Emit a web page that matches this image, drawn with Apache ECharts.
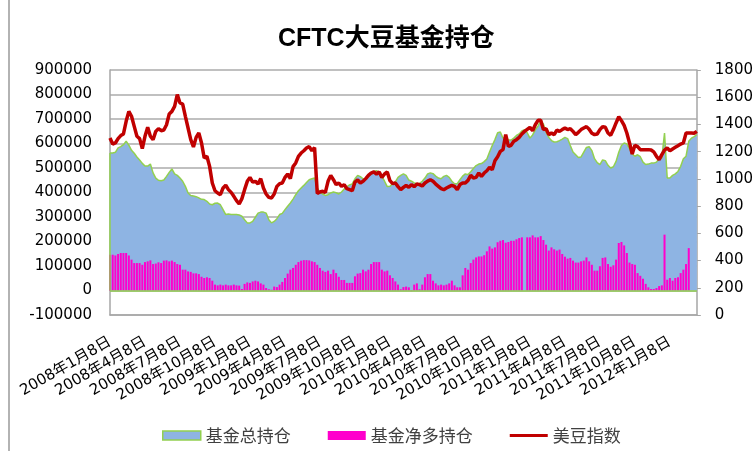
<!DOCTYPE html>
<html>
<head>
<meta charset="utf-8">
<title>CFTC大豆基金持仓</title>
<script src="https://cdn.jsdelivr.net/npm/echarts@6/dist/echarts.min.js"></script>
<style>
  html, body { margin: 0; padding: 0; background: #fff; }
  #chart { width: 756px; height: 451px; }
</style>
</head>
<body>
<div id="chart"></div>
<script>
// 轴标签（每季度一个）
const tickLabels = [
  '2008年1月8日', '2008年4月8日', '2008年7月8日', '2008年10月8日',
  '2009年1月8日', '2009年4月8日', '2009年7月8日', '2009年10月8日',
  '2010年1月8日', '2010年4月8日', '2010年7月8日', '2010年10月8日',
  '2011年1月8日', '2011年4月8日', '2011年7月8日', '2011年10月8日',
  '2012年1月8日'
]

// 基金总持仓（周数据）
const totalPos = [
  561000, 561000, 564000, 582000, 587000, 595000, 609000, 593000, 572000, 560000,
  545000, 533000, 519000, 508000, 508000, 516000, 480000, 459000, 450000, 448000,
  451000, 466000, 482000, 496000, 476000, 470000, 459000, 446000, 425000, 398000,
  388000, 386000, 383000, 378000, 372000, 371000, 364000, 353000, 350000, 356000,
  357000, 350000, 330000, 310000, 312000, 310000, 310000, 310000, 308000, 303000,
  289000, 276000, 276000, 282000, 299000, 316000, 320000, 320000, 316000, 289000,
  276000, 282000, 293000, 310000, 315000, 330000, 344000, 357000, 373000, 391000,
  407000, 418000, 429000, 441000, 452000, 456000, 459000, 418000, 401000, 394000,
  388000, 391000, 398000, 402000, 399000, 394000, 402000, 414000, 424000, 431000,
  435000, 456000, 470000, 465000, 456000, 455000, 469000, 480000, 486000, 489000,
  480000, 466000, 446000, 424000, 425000, 435000, 443000, 462000, 470000, 476000,
  470000, 451000, 446000, 439000, 436000, 437000, 446000, 459000, 476000, 480000,
  477000, 467000, 459000, 456000, 466000, 470000, 462000, 446000, 436000, 436000,
  452000, 467000, 476000, 473000, 485000, 498000, 510000, 516000, 518000, 526000,
  537000, 565000, 592000, 616000, 644000, 647000, 622000, 626000, 614000, 614000,
  622000, 633000, 639000, 651000, 656000, 644000, 622000, 635000, 656000, 671000,
  693000, 680000, 646000, 625000, 612000, 606000, 607000, 612000, 618000, 625000,
  620000, 592000, 565000, 554000, 543000, 545000, 565000, 584000, 587000, 571000,
  538000, 522000, 514000, 533000, 530000, 511000, 500000, 505000, 527000, 564000,
  592000, 602000, 598000, 579000, 557000, 548000, 554000, 546000, 524000, 514000,
  516000, 520000, 520000, 524000, 538000, 541000, 643000, 459000, 459000, 470000,
  476000, 486000, 507000, 538000, 548000, 609000, 622000, 628000, 636000
]

// 基金净多持仓
const netLong = [
  146000, 146000, 143000, 149000, 153000, 153000, 153000, 143000, 126000, 112000,
  112000, 112000, 105000, 116000, 119000, 123000, 108000, 110000, 115000, 112000,
  122000, 123000, 119000, 122000, 116000, 108000, 105000, 85000, 85000, 78000,
  76000, 70000, 70000, 67000, 56000, 51000, 54000, 51000, 40000, 24000,
  21000, 24000, 21000, 24000, 21000, 21000, 24000, 21000, 20000, 6000,
  27000, 33000, 31000, 37000, 40000, 37000, 29000, 24000, 10000, 5000,
  3000, 16000, 14000, 24000, 35000, 51000, 69000, 85000, 92000, 105000,
  116000, 122000, 124000, 124000, 123000, 119000, 116000, 105000, 92000, 81000,
  76000, 81000, 67000, 85000, 71000, 56000, 43000, 43000, 31000, 31000,
  31000, 58000, 69000, 71000, 85000, 78000, 85000, 108000, 116000, 116000,
  116000, 85000, 78000, 81000, 62000, 51000, 37000, 24000, 5000, 14000,
  16000, 13000, -3000, 24000, 29000, 5000, 24000, 54000, 67000, 67000,
  40000, 29000, 21000, 24000, 21000, 24000, 29000, 40000, 21000, 13000,
  13000, 62000, 92000, 85000, 112000, 126000, 135000, 139000, 139000, 144000,
  160000, 180000, 171000, 176000, 197000, 203000, 206000, 195000, 198000, 203000,
  203000, 209000, 214000, 217000, null, 217000, 217000, 225000, 217000, 217000,
  222000, 206000, 187000, 163000, 176000, 168000, 163000, 167000, 149000, 138000,
  130000, 133000, 122000, 114000, 114000, 119000, 122000, 135000, 119000, 105000,
  81000, 81000, 99000, 133000, 135000, 108000, 97000, 103000, 126000, 194000,
  198000, 184000, 153000, 114000, 108000, 105000, 71000, 60000, 48000, 27000,
  13000, 6000, 6000, 10000, 18000, 21000, 228000, 44000, 51000, 40000,
  51000, 54000, 71000, 85000, 108000, 173000, null, null, null
]

// 美豆指数
const soyIndex = [
  1300, 1256, 1264, 1296, 1318, 1330, 1423, 1496, 1460, 1386,
  1313, 1296, 1222, 1313, 1379, 1313, 1288, 1349, 1369, 1354,
  1359, 1398, 1477, 1496, 1533, 1619, 1558, 1550, 1460, 1374,
  1288, 1235, 1305, 1337, 1264, 1153, 1166, 1092, 970, 913,
  896, 884, 933, 953, 921, 901, 872, 840, 816, 855,
  921, 982, 1011, 977, 982, 962, 1002, 933, 889, 864,
  860, 889, 945, 965, 970, 1011, 1036, 1002, 1090, 1117,
  1166, 1190, 1207, 1227, 1237, 1207, 1230, 894, 904, 909,
  901, 982, 1026, 994, 958, 970, 945, 958, 928, 921,
  913, 977, 992, 970, 982, 1002, 1026, 1043, 1051, 1036,
  1051, 1011, 1036, 1051, 987, 965, 970, 943, 921, 938,
  953, 938, 958, 943, 962, 958, 948, 970, 984, 994,
  982, 962, 945, 928, 921, 933, 943, 953, 945, 921,
  958, 970, 970, 989, 1026, 1006, 1011, 1043, 1019, 1043,
  1060, 1085, 1068, 1134, 1163, 1202, 1215, 1325, 1239, 1247,
  1276, 1288, 1305, 1330, 1349, 1364, 1379, 1354, 1398, 1430,
  1430, 1362, 1369, 1325, 1337, 1325, 1359, 1349, 1362, 1374,
  1362, 1369, 1349, 1325, 1342, 1362, 1374, 1384, 1364, 1335,
  1325, 1330, 1362, 1384, 1379, 1337, 1320, 1362, 1411, 1457,
  1428, 1393, 1337, 1264, 1183, 1247, 1237, 1215, 1215, 1215,
  1215, 1212, 1198, 1166, 1141, 1178, 1212, 1227, 1207, 1220,
  1232, 1244, 1256, 1264, 1337, 1337, 1337, 1335, 1349
]

// 周日期（从2008年1月8日起每周一个）
const weeks = []
const start = new Date(2008, 0, 8)
for (let i = 0; i < soyIndex.length; i++) {
  const d = new Date(start.getTime() + i * 7 * 86400000)
  weeks.push(d.getFullYear() + '年' + (d.getMonth() + 1) + '月' + d.getDate() + '日')
}

const cnFont = "'Noto Sans CJK SC', sans-serif"
const numFont = "'DejaVu Sans', 'Noto Sans CJK SC', sans-serif"

const chart = echarts.init(document.getElementById('chart'))

const option = {
  animation: false,
  backgroundColor: '#fff',
  title: {
    text: 'CFTC大豆基金持仓',
    left: 273,
    top: 22,
    textStyle: {
      fontSize: 25,
      fontWeight: 'bold',
      color: '#000',
      fontFamily: "'Liberation Sans', 'Noto Sans CJK SC', sans-serif"
    }
  },
  graphic: [{
    type: 'line',
    shape: {x1: 9, y1: 0, x2: 9, y2: 451},
    style: {stroke: '#9a9a9a', lineWidth: 1.5}
  }],
  legend: {
    left: 157,
    top: 422,
    itemWidth: 38,
    itemHeight: 9,
    itemGap: 37,
    textStyle: {fontSize: 17, color: '#404040', fontFamily: cnFont},
    data: [
      {name: '基金总持仓', icon: 'rect', itemStyle: {color: '#8EB4E3', borderColor: '#92D050', borderWidth: 1.5}},
      {name: '基金净多持仓', icon: 'rect', itemStyle: {color: '#FF00CC'}},
      {name: '美豆指数', icon: 'path://M0,0 H38 V3 H0 Z', itemStyle: {color: '#C00000'}}
    ]
  },
  grid: {left: 110, right: 59, top: 70, bottom: 136},
  xAxis: {
    type: 'category',
    data: weeks,
    boundaryGap: false,
    axisLine: {onZero: false, lineStyle: {color: '#a6a6a6', width: 1.5}},
    axisTick: {show: false},
    axisLabel: {
      interval: 12,
      rotate: 30,
      margin: 26,
      fontSize: 15,
      color: '#000',
      fontFamily: numFont,
      formatter: (value, index) => tickLabels[Math.round(index / 13)]
    },
    splitLine: {show: false}
  },
  yAxis: [
    {
      type: 'value',
      min: -100000,
      max: 900000,
      interval: 100000,
      axisLine: {show: true, lineStyle: {color: '#a6a6a6', width: 1.5}},
      axisTick: {show: false},
      axisLabel: {margin: 18, fontSize: 15, color: '#000', fontFamily: numFont, formatter: v => String(v)},
      splitLine: {lineStyle: {color: '#ababab', width: 1.5}}
    },
    {
      type: 'value',
      min: 0,
      max: 1800,
      interval: 200,
      axisLine: {show: true, lineStyle: {color: '#a6a6a6', width: 1.5}},
      axisTick: {show: true, length: 4, lineStyle: {color: '#a6a6a6'}},
      axisLabel: {margin: 18, fontSize: 15, color: '#000', fontFamily: numFont, formatter: v => String(v)},
      splitLine: {show: false}
    }
  ],
  series: [
    {
      name: '基金总持仓',
      type: 'line',
      z: 2,
      data: totalPos,
      symbol: 'none',
      lineStyle: {color: '#92D050', width: 1.5},
      itemStyle: {color: '#8EB4E3'},
      areaStyle: {color: '#8EB4E3', opacity: 1},
      markLine: {
        silent: true,
        symbol: 'none',
        label: {show: false},
        lineStyle: {color: '#92D050', width: 1.5, type: 'solid'},
        data: [
          {yAxis: 0},
          [{coord: [0, 0]}, {coord: [0, totalPos[0]]}]
        ]
      }
    },
    {
      name: '基金净多持仓',
      type: 'bar',
      z: 3,
      data: netLong,
      barWidth: 2,
      itemStyle: {color: '#FF00CC'}
    },
    {
      name: '美豆指数',
      type: 'line',
      z: 4,
      yAxisIndex: 1,
      data: soyIndex,
      symbol: 'none',
      lineStyle: {color: '#C00000', width: 3.5}
    }
  ]
}

chart.setOption(option)
</script>
</body>
</html>
